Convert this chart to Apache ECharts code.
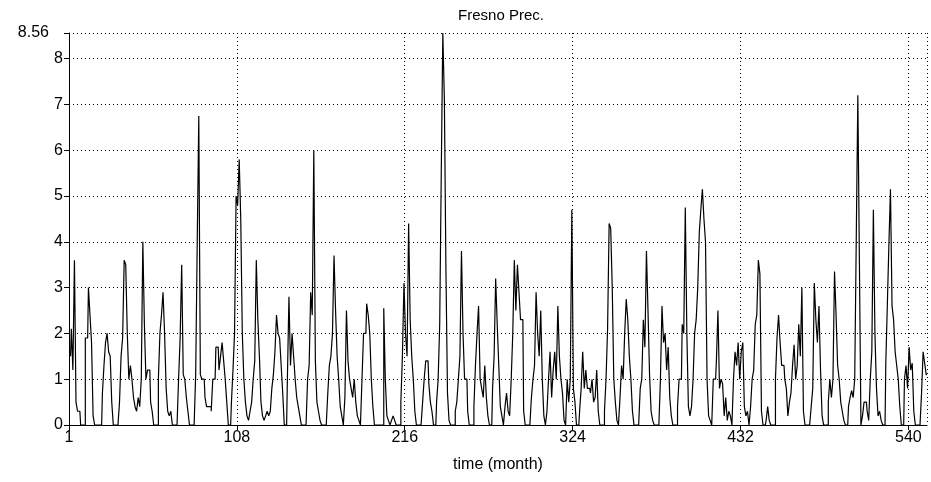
<!DOCTYPE html>
<html>
<head>
<meta charset="utf-8">
<script src="https://cdn.jsdelivr.net/npm/echarts@6/dist/echarts.min.js"></script>
<style>
  html, body { margin: 0; padding: 0; background: #fff; }
  #chart { width: 931px; height: 482px; }
</style>
</head>
<body>
<div id="chart"></div>
<script>
// monthly precipitation, one row per 12 months
const precip = [
  1.5, 2.1, 1.2, 3.6, 0.5, 0.3, 0.3, 0, 0, 0, 1.9, 1.9,
  3.0, 2.4, 1.8, 0.2, 0, 0, 0, 0, 0, 0.7, 1.3, 1.8,
  2.0, 1.6, 1.5, 0.5, 0, 0, 0, 0, 0.5, 1.5, 1.9, 3.6,
  3.5, 2.0, 1.0, 1.3, 1.0, 0.6, 0.4, 0.3, 0.6, 0.4, 1.0, 4.0,
  2.2, 1.0, 1.2, 1.2, 0.5, 0.3, 0, 0, 0, 1.0, 2.0, 2.4,
  2.9, 2.0, 0.8, 0.3, 0.2, 0.3, 0, 0, 0, 0, 1.0, 1.9,
  3.5, 1.1, 1.0, 0.6, 0.3, 0, 0, 0, 0, 1.1, 4.0, 6.75,
  1.1, 1.0, 1.0, 0.6, 0.4, 0.4, 0.4, 0.3, 1.0, 1.0, 1.7, 1.7,
  1.2, 1.5, 1.8, 1.4, 1.0, 0.5, 0, 0, 0.5, 1.2, 2.0, 5.0,
  4.8, 5.8, 4.5, 2.0, 1.0, 0.5, 0.2, 0.1, 0.3, 0.5, 1.0, 1.4,
  3.6, 2.3, 1.5, 0.5, 0.2, 0.1, 0.2, 0.3, 0.2, 0.3, 0.8, 1.1,
  1.6, 2.4, 2.0, 1.9, 1.3, 0.7, 0, 0, 1.0, 2.8, 1.3, 2.0,
  1.5, 1.0, 0.6, 0.4, 0.2, 0, 0, 0, 0, 1.0, 1.3, 2.9,
  2.4, 6.0, 1.4, 0.5, 0.3, 0.1, 0, 0, 0, 0, 0.7, 1.3,
  1.5, 2.0, 3.7, 2.5, 1.5, 1.0, 0.4, 0.2, 0, 0.6, 2.5, 1.4,
  1.0, 0.8, 0.6, 1.0, 0.5, 0.2, 0.1, 0, 1.0, 2.0, 2.0, 2.65,
  2.4, 2.0, 1.0, 0.4, 0, 0, 0, 0, 0, 0, 2.55, 1.0,
  0.2, 0.1, 0, 0.1, 0.2, 0.1, 0, 0, 0, 0.5, 1.5, 3.1,
  2.0, 1.5, 4.4, 2.3, 1.5, 1.0, 0.3, 0, 0, 0, 0, 0.5,
  1.0, 1.4, 1.4, 0.9, 0.5, 0.3, 0, 0, 0.5, 1.0, 2.2, 5.5,
  8.56, 7.1, 3.4, 0.7, 0.1, 0, 0, 0, 0.3, 0.5, 1.0, 1.5,
  3.8, 2.0, 1.0, 1.0, 0.3, 0, 0, 0, 0.4, 1.3, 2.0, 2.6,
  1.0, 0.8, 0.6, 1.3, 0.6, 0.2, 0, 0, 0.8, 1.5, 3.2, 2.2,
  1.3, 0.4, 0.2, 0, 0.4, 0.7, 0.3, 0.2, 1.0, 2.0, 3.6, 2.5,
  3.5, 2.9, 2.3, 2.3, 0.3, 0, 0, 0, 0, 0.6, 1.0, 1.3,
  2.9, 2.0, 1.5, 2.5, 1.0, 0.2, 0, 0.3, 1.0, 1.6, 0.6, 1.2,
  1.6, 1.0, 2.6, 1.5, 1.0, 0.7, 0.1, 0, 1.0, 0.5, 1.0, 4.7,
  0.8, 0.5, 0, 0, 0.3, 0.8, 1.6, 0.8, 1.2, 0.8, 0.8, 0.7,
  1.0, 0.5, 0.6, 1.2, 0.3, 0, 0, 0, 0.3, 1.0, 2.1, 4.4,
  4.3, 3.0, 1.0, 0.5, 0.1, 0, 0.6, 1.3, 1.0, 2.0, 2.75, 2.3,
  1.5, 1.0, 0.3, 0, 0, 0, 0, 0.8, 1.0, 2.3, 1.7, 3.8,
  2.5, 1.1, 0.3, 0.1, 0, 0, 0, 0, 1.0, 2.6, 1.8, 2.0,
  1.2, 1.7, 0.6, 0.2, 0, 0, 0, 0.4, 1.0, 1.0, 2.2, 2.0,
  4.75, 2.0, 0.4, 0.2, 0.4, 1.0, 2.0, 2.3, 3.0, 4.2, 4.7, 5.15,
  4.5, 4.0, 1.0, 0.2, 0.1, 0, 1.0, 1.0, 1.4, 2.5, 0.8, 1.0,
  0.9, 0.2, 0.6, 0.1, 0.3, 0.2, 0, 1.0, 1.6, 1.3, 1.8, 1.0,
  1.6, 1.8, 0.4, 0.2, 0.3, 0, 0.4, 1.0, 1.2, 2.2, 2.4, 3.6,
  3.3, 0.3, 0, 0, 0.1, 0.4, 0.1, 0, 0, 0, 1.0, 1.9,
  2.4, 1.8, 1.3, 1.3, 1.0, 0.8, 0.2, 0.5, 0.7, 1.3, 1.75, 1.0,
  1.3, 2.2, 1.5, 3.0, 0.3, 0, 0, 0, 0, 0.4, 0.8, 3.1,
  2.3, 1.8, 2.6, 1.2, 0.2, 0, 0, 0, 0.5, 1.0, 0.6, 1.0,
  3.35, 2.4, 1.3, 1.0, 0.5, 0.3, 0.1, 0, 0, 0.4, 0.6, 0.75,
  0.6, 1.0, 4.1, 7.2, 3.6, 0, 0.2, 0.5, 0.5, 0.3, 0.1, 1.0,
  1.6, 4.7, 2.0, 0.8, 0.2, 0.3, 0.1, 0, 0, 1.35, 2.65, 3.95,
  5.15, 2.6, 2.3, 1.6, 1.3, 1.0, 0.4, 0, 0, 1.0, 1.3, 0.8,
  1.7, 1.2, 1.35, 0.3, 0, 0, 0, 0, 0.7, 1.6, 1.35, 1.1
];

const firstMonth = 1;
const xTickStep = 108;
const yMax = 8.56;
const titleText = 'Fresno Prec.';
const xName = 'time (month)';

const points = precip.map((v, i) => [firstMonth + i, v]);

const chart = echarts.init(document.getElementById('chart'));

const gridDots = { show: true, lineStyle: { color: '#000', type: [1, 3], width: 1 } };
const font = { fontFamily: 'Liberation Sans, Arial, sans-serif', fontSize: 16, color: '#000' };

chart.setOption({
  animation: false,
  backgroundColor: '#fff',
  title: {
    text: titleText,
    left: 496,
    top: 3,
    textAlign: 'center',
    textStyle: Object.assign({}, font, { fontSize: 15, fontWeight: 'normal' })
  },
  grid: { left: 69, right: 4, top: 33, bottom: 57 },
  xAxis: {
    type: 'value',
    min: 0,
    max: 552,
    interval: xTickStep,
    name: xName,
    nameLocation: 'middle',
    nameGap: 32,
    nameTextStyle: font,
    axisLine: { lineStyle: { color: '#000', width: 1 } },
    axisTick: { length: 5, lineStyle: { color: '#000' } },
    axisLabel: Object.assign({}, font, {
      margin: 5,
      showMaxLabel: false,
      formatter: v => (v === 0 ? String(firstMonth) : String(v))
    }),
    splitLine: gridDots
  },
  yAxis: {
    type: 'value',
    min: 0,
    max: yMax,
    interval: 1,
    axisLine: { show: true, lineStyle: { color: '#000', width: 1 } },
    axisTick: { show: true, length: 5, lineStyle: { color: '#000' } },
    axisLabel: Object.assign({}, font, {
      margin: 6,
      showMaxLabel: true,
      formatter: v => (v === yMax ? '{top|' + v + '}' : String(v)),
      rich: { top: Object.assign({}, font, { padding: [0, 14, 0, 0] }) }
    }),
    splitLine: gridDots
  },
  series: [{
    type: 'line',
    data: points,
    step: 'middle',
    showSymbol: false,
    lineStyle: { color: '#000', width: 1.2 },
    z: 3
  }]
});
</script>
</body>
</html>
